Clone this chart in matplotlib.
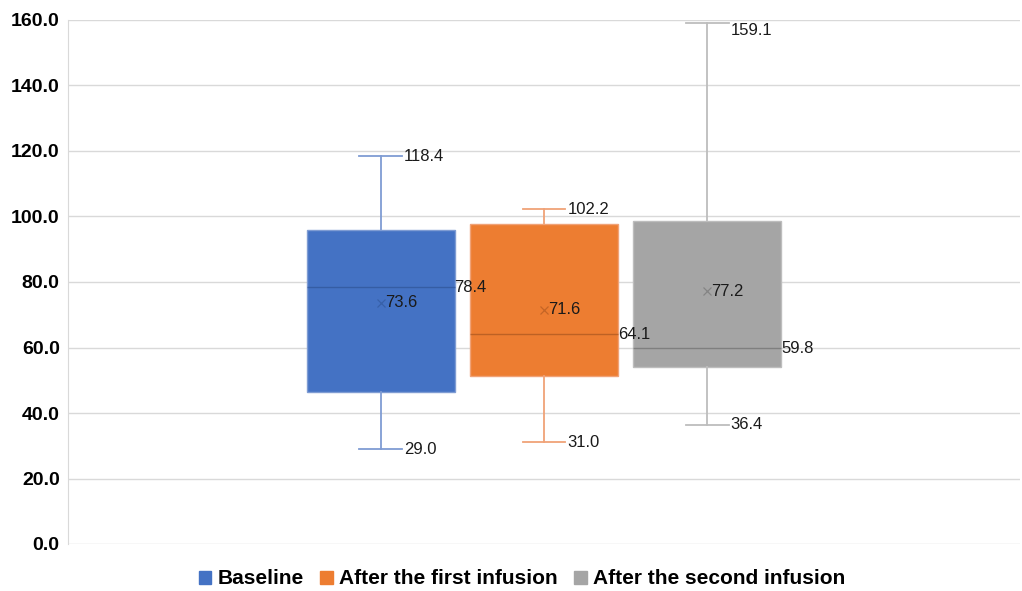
import matplotlib
matplotlib.use("Agg")
import matplotlib.pyplot as plt
from matplotlib.patches import Patch

plt.rcParams['font.family'] = ['Liberation Sans', 'DejaVu Sans']

# Summary statistics per group
groups = ["Baseline", "After the first infusion", "After the second infusion"]
whisker_low = [29.0, 31.0, 36.4]
q1 = [46.4, 51.3, 54.1]
median = [78.4, 64.1, 59.8]
q3 = [95.8, 97.6, 98.5]
whisker_high = [118.4, 102.2, 159.1]
mean = [73.6, 71.6, 77.2]

y_ticks = [0, 20, 40, 60, 80, 100, 120, 140, 160]
y_max = 160

fill_colors = ["#4472C4", "#ED7D31", "#A5A5A5"]
line_colors = ["#7F9CD3", "#F0A277", "#BDBDBD"]
dark_colors = ["#2F5597", "#A9561F", "#6F6F6F"]

fig = plt.figure(figsize=(10.22, 5.91), dpi=100)
ax = fig.add_axes([68 / 1022, 47 / 591, (1020 - 68) / 1022, 524 / 591])

offset = 0.1714
box_w = 0.155
positions = [-offset, 0.0, offset]

for i in range(len(groups)):
    stats = [dict(whislo=whisker_low[i], q1=q1[i], med=median[i], q3=q3[i],
                  whishi=whisker_high[i], mean=mean[i], label=groups[i])]
    ax.bxp(stats, positions=[positions[i]], widths=box_w, patch_artist=True,
           showmeans=True, showfliers=False,
           boxprops=dict(facecolor=fill_colors[i], edgecolor=line_colors[i], linewidth=1.0),
           whiskerprops=dict(color=line_colors[i], linewidth=1.3),
           capprops=dict(color=line_colors[i], linewidth=1.3),
           medianprops=dict(color=dark_colors[i], linewidth=1.0, alpha=0.7),
           meanprops=dict(marker="x", markeredgecolor=dark_colors[i], markersize=6,
                          markeredgewidth=0.9, alpha=0.6),
           capwidths=0.045, zorder=3)

    x = positions[i]
    lab_kw = dict(fontsize=12, color="#1a1a1a", ha="left", zorder=5)
    # keep the upper whisker label inside the plot area
    top_va = "top" if whisker_high[i] > y_max - 4 else "center"
    ax.text(x + 0.0245, whisker_high[i], f"{whisker_high[i]:.1f}", va=top_va, **lab_kw)
    ax.text(x + 0.0245, whisker_low[i], f"{whisker_low[i]:.1f}", va="center", **lab_kw)
    ax.text(x + box_w / 2, median[i], f"{median[i]:.1f}", va="center", **lab_kw)
    ax.text(x + 0.004, mean[i], f"{mean[i]:.1f}", va="center", **lab_kw)

ax.set_xlim(-0.5, 0.5)
ax.set_ylim(0, y_max)
ax.set_yticks(y_ticks)
ax.set_yticklabels([f"{v:.1f}" for v in y_ticks], fontsize=14, fontweight="bold")
ax.set_xticks([])
ax.tick_params(axis="y", length=0, pad=6)
ax.grid(axis="y", color="#D9D9D9", linewidth=1.0, zorder=0)
ax.set_axisbelow(True)
for s in ["top", "right", "bottom"]:
    ax.spines[s].set_visible(False)
ax.spines["left"].set_color("#D9D9D9")

handles = [Patch(facecolor=c, edgecolor=c) for c in fill_colors]
fig.legend(handles, groups, loc="center", bbox_to_anchor=(522 / 1022, 1 - 579 / 591),
           ncol=3, frameon=False, handlelength=0.6, handleheight=0.6,
           handletextpad=0.3, columnspacing=0.8,
           prop=dict(size=15, weight="bold"))

fig.savefig("out.png", dpi=100)
